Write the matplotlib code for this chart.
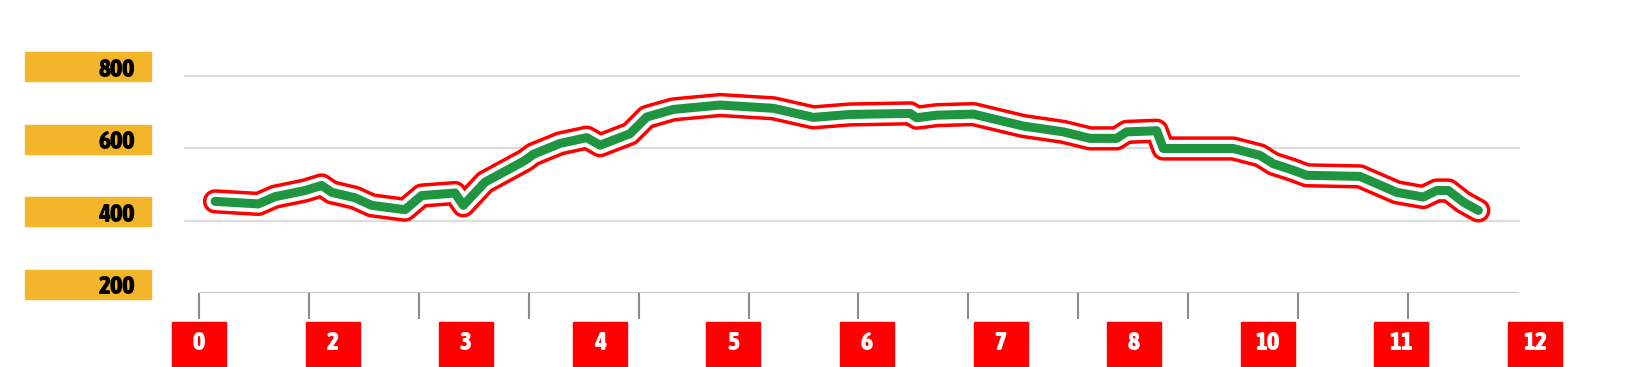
import matplotlib
matplotlib.use("Agg")
import matplotlib.pyplot as plt
import matplotlib.font_manager as fm
import matplotlib.transforms as mtransforms
from matplotlib.patches import Rectangle
import numpy as np

# ---- data ----
dist = [0.146, 0.540, 0.692, 0.965, 1.116, 1.207, 1.419, 1.571, 1.874, 2.026,
        2.329, 2.405, 2.602, 2.966, 3.042, 3.285, 3.528, 3.649, 3.922, 4.074,
        4.316, 4.741, 5.226, 5.590, 5.924, 6.470, 6.531, 6.712, 7.046, 7.501,
        7.864, 8.107, 8.350, 8.441, 8.714, 8.774, 9.411, 9.654, 9.775, 9.957,
        10.079, 10.564, 10.898, 11.140, 11.262, 11.368, 11.504, 11.641]
elev = [453, 446, 466, 483, 497, 478, 463, 442, 430, 469,
        476, 442, 506, 566, 583, 613, 629, 608, 640, 686,
        707, 719, 710, 685, 693, 696, 684, 691, 694, 661,
        645, 627, 627, 645, 648, 599, 599, 580, 557, 539,
        525, 522, 478, 465, 483, 483, 451, 428]
y_tick_values = [200, 400, 600, 800]
y_tick_labels = ["200", "400", "600", "800"]
x_tick_values = list(range(12))
x_label_texts = ["0", "2", "3", "4", "5", "6", "7", "8", "10", "11", "12"]

# ---- font choice: prefer a bold condensed face if one is installed ----
def pick_font():
    best = None
    for f in fm.fontManager.ttflist:
        nm = f.name.lower()
        st = str(f.stretch).lower()
        narrow = ("condensed" in st or "narrow" in nm or "condensed" in nm
                  or st in ("500", "400", "300") and False)
        try:
            w = int(f.weight)
        except (TypeError, ValueError):
            w = {"bold": 700, "heavy": 800, "black": 900, "semibold": 600,
                 "demibold": 600, "extra bold": 800}.get(str(f.weight).lower(), 400)
        if narrow and w >= 600 and "italic" not in str(f.style).lower() \
                and "oblique" not in str(f.style).lower():
            if best is None or w > best[0]:
                best = (w, f.fname)
    if best:
        return dict(fontproperties=fm.FontProperties(fname=best[1]))
    return dict(family="DejaVu Sans", weight="bold")

fp = pick_font()

W, H = 1630, 367
fig = plt.figure(figsize=(W / 100, H / 100), dpi=100)
ax = fig.add_axes([184 / W, 1 - 293 / H, (1520 - 184) / W, (293 - 39.5) / H])
ax.set_xlim(-15 / 109.9, (1520 - 199) / 109.9)
ax.set_ylim(200, 900)
for s in ax.spines.values():
    s.set_visible(False)

for v in y_tick_values[1:]:
    ax.axhline(v, color="#dcdcdc", lw=1.6, zorder=1)
ax.hlines(200, 0, 12, color="#c6c6c6", lw=2.2, zorder=1)

ax.set_xticks(x_tick_values)
ax.set_yticks([])
ax.tick_params(axis="x", direction="out", length=18.5, width=1.5,
               color="#8c8c8c", labelbottom=False)

kw = dict(solid_capstyle="round", solid_joinstyle="round", clip_on=False)
ax.plot(dist, elev, color="#ff0000", lw=17.5, zorder=3, **kw)
ax.plot(dist, elev, color="#ffffff", lw=12.5, zorder=4, **kw)
ax.plot(dist, elev, color="#1f9441", lw=6.5, zorder=5, **kw)

def text_kw(size):
    d = dict(fp)
    if "fontproperties" in d:
        prop = d["fontproperties"].copy()
        prop.set_size(size)
        return dict(fontproperties=prop)
    d["fontsize"] = size
    return d

# y labels (orange boxes)
ytrans = mtransforms.blended_transform_factory(fig.transFigure, ax.transData) + \
    mtransforms.ScaledTranslation(0, 9 / 100, fig.dpi_scale_trans)
box_h = 29 / ((293 - 39.5) / 700)
for v, lab in zip(y_tick_values, y_tick_labels):
    fig.patches.append(Rectangle((25 / W, v - box_h / 2), 126 / W, box_h,
                                 transform=ytrans, color="#f3b62b", zorder=1))
    fig.text(135 / W, v, lab, transform=ytrans, ha="right", va="center_baseline",
             color="black", **text_kw(18.5))

# x labels (red boxes)
xtrans = mtransforms.blended_transform_factory(ax.transData, fig.transFigure)
xpos = np.linspace(0, (1535 - 199) / 109.9, len(x_label_texts))
bw = 54 / 109.9
for xp, lab in zip(xpos, x_label_texts):
    fig.patches.append(Rectangle((xp - bw / 2, 0), bw, 1 - 322 / H,
                                 transform=xtrans, color="#ff0000", zorder=1))
    fig.text(xp, 1 - 340 / H, lab, transform=xtrans, ha="center",
             va="center_baseline", color="white", **text_kw(18.5))

fig.savefig("out.png", dpi=100)
